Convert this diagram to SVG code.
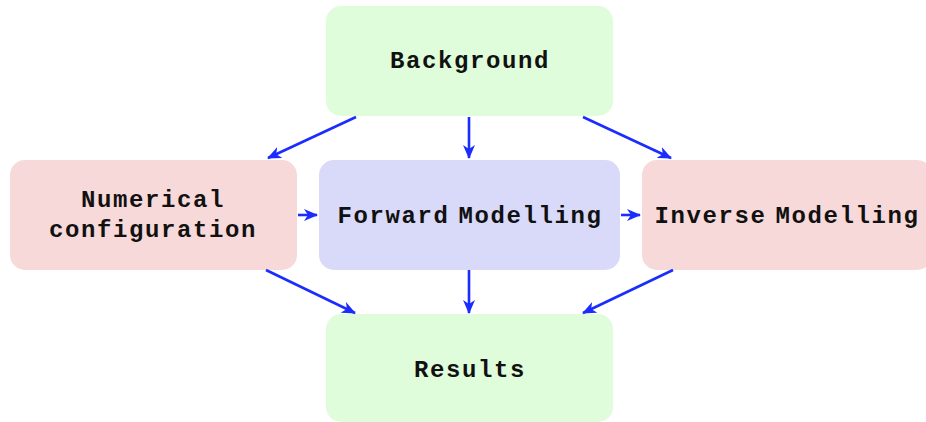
<svg xmlns="http://www.w3.org/2000/svg" width="926" height="422" viewBox="0 0 926 422">
<style>
.green{fill:#dffddb}
.pink{fill:#f8d9d9}
.lav{fill:#d9daf9}
.t{font-family:"Liberation Mono","Courier New",monospace;font-weight:bold;font-size:24px;letter-spacing:1.6px;fill:#111;text-anchor:middle}
.c{stroke:#1b2cff;stroke-width:2.6;fill:none;marker-end:url(#ah)}
</style>
<defs>
<marker id="ah" markerUnits="userSpaceOnUse" viewBox="0 0 14 12" markerWidth="14" markerHeight="12" refX="13" refY="6" orient="auto">
<path d="M0,0 L14,6 L0,12 L4,6 z" fill="#1b2cff"/>
</marker>
</defs>
<rect width="926" height="422" fill="#fff"/>
<g id="background"><rect class="green" x="326" y="6" width="287" height="110" rx="15"/><text class="t" x="470" y="68">Background</text></g>
<g id="numerical"><rect class="pink" x="10" y="160" width="287" height="110" rx="15"/><text class="t" x="153" y="207">Numerical</text><text class="t" x="153" y="237">configuration</text></g>
<g id="forward"><rect class="lav" x="319" y="160" width="301" height="110" rx="15"/><text class="t" x="470" y="223" word-spacing="-7px">Forward Modelling</text></g>
<g id="inverse"><rect class="pink" x="642" y="160" width="290" height="110" rx="15"/><text class="t" x="787" y="223" word-spacing="-7px">Inverse Modelling</text></g>
<g id="results"><rect class="green" x="326" y="314" width="287" height="108" rx="15"/><text class="t" x="470" y="377">Results</text></g>
<g id="connectors">
<line class="c" x1="356" y1="117" x2="268" y2="158"/>
<line class="c" x1="469" y1="117" x2="469" y2="158"/>
<line class="c" x1="583" y1="117" x2="671" y2="158"/>
<line class="c" x1="298" y1="215" x2="317" y2="215"/>
<line class="c" x1="621" y1="215" x2="640" y2="215"/>
<line class="c" x1="266" y1="270" x2="355" y2="313"/>
<line class="c" x1="469" y1="270" x2="469" y2="313"/>
<line class="c" x1="673" y1="270" x2="583" y2="313"/>
</g>
</svg>
